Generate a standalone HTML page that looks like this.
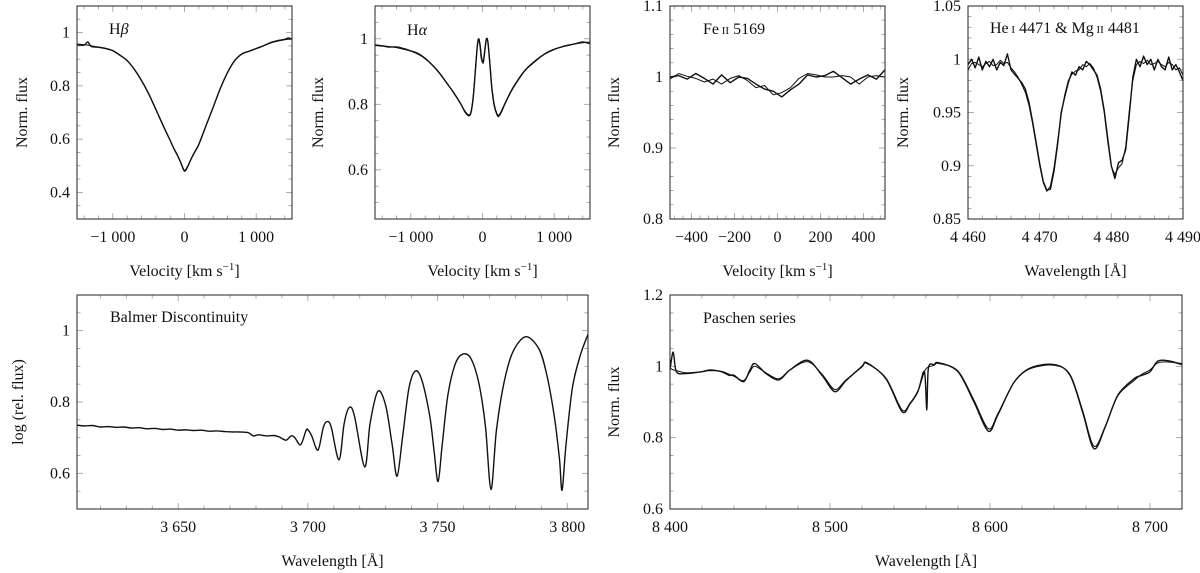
<!DOCTYPE html>
<html><head><meta charset="utf-8"><style>
html,body{margin:0;padding:0;background:#fff;}
svg, svg text{font-family:"Liberation Serif","DejaVu Serif",serif;}
svg{display:block;}
</style></head><body>
<svg id="fig" width="1200" height="573" viewBox="0 0 1200 573" xmlns="http://www.w3.org/2000/svg" font-family="Liberation Serif, DejaVu Serif, serif"></svg>
<script>
// ---------- DATA ----------
const hbX=[-1500,-1400,-1350,-1300,-1200,-1100,-1000,-900,-800,-700,-600,-500,-400,-300,-200,-150,-100,-50,0,50,100,150,200,300,400,500,600,700,800,900,1000,1100,1200,1300,1400,1450,1500];
const hbObs=[0.955,0.953,0.965,0.948,0.945,0.94,0.932,0.915,0.895,0.862,0.82,0.77,0.712,0.652,0.595,0.565,0.54,0.51,0.48,0.50,0.53,0.555,0.58,0.65,0.72,0.79,0.85,0.895,0.92,0.93,0.94,0.95,0.962,0.97,0.975,0.98,0.975];
const hbMod=[0.957,0.955,0.953,0.95,0.946,0.941,0.933,0.916,0.894,0.863,0.821,0.771,0.713,0.653,0.596,0.566,0.541,0.512,0.483,0.502,0.531,0.556,0.582,0.651,0.721,0.79,0.85,0.894,0.919,0.93,0.941,0.951,0.961,0.968,0.973,0.975,0.976];
const haX=[-1500,-1400,-1300,-1200,-1100,-1000,-900,-800,-700,-600,-500,-400,-300,-240,-190,-160,-130,-100,-75,-55,-35,-15,10,35,55,75,100,130,165,200,225,260,300,400,500,600,700,800,900,1000,1100,1200,1300,1400,1500];
const haObs=[0.98,0.978,0.975,0.975,0.97,0.963,0.955,0.94,0.92,0.895,0.865,0.835,0.80,0.775,0.765,0.775,0.82,0.9,0.97,1.0,0.98,0.94,0.93,0.97,1.0,0.99,0.93,0.85,0.795,0.77,0.763,0.775,0.795,0.84,0.875,0.905,0.925,0.943,0.958,0.968,0.975,0.98,0.985,0.99,0.985];
const haMod=[0.982,0.979,0.976,0.973,0.968,0.962,0.953,0.939,0.92,0.896,0.866,0.834,0.80,0.778,0.768,0.778,0.825,0.905,0.975,1.0,0.985,0.95,0.925,0.965,1.0,0.99,0.935,0.855,0.80,0.773,0.767,0.778,0.797,0.842,0.877,0.906,0.927,0.944,0.957,0.967,0.975,0.981,0.985,0.988,0.99];
const feX=[-500,-460,-420,-380,-340,-300,-260,-220,-180,-140,-100,-60,-20,20,60,100,140,180,220,260,300,340,380,420,460,500];
const feA=[1.0,1.002,0.997,1.005,0.998,0.99,1.003,0.992,1.0,0.998,0.99,0.983,0.98,0.972,0.982,0.99,1.003,1.0,1.002,1.008,0.999,0.99,0.997,1.003,0.997,1.01];
const feB=[0.997,1.005,1.001,0.998,0.993,0.997,0.99,0.998,1.002,0.995,0.985,0.988,0.975,0.978,0.985,0.998,1.005,1.003,1.0,1.0,1.002,1.0,0.99,1.0,1.002,1.0];
const heX=[4460,4460.5,4461,4461.5,4462,4462.5,4463,4463.5,4464,4464.5,4465,4465.5,4466,4466.5,4467,4467.5,4468,4468.5,4469,4469.5,4470,4470.5,4471,4471.5,4472,4472.5,4473,4473.5,4474,4474.5,4475,4475.5,4476,4476.5,4477,4477.5,4478,4478.5,4479,4479.5,4480,4480.5,4481,4481.5,4482,4482.5,4483,4483.5,4484,4484.5,4485,4485.5,4486,4486.5,4487,4487.5,4488,4488.5,4489,4489.5,4490];
const heObs=[0.995,1.0,0.992,1.002,0.99,0.998,0.993,1.0,0.99,0.997,0.994,1.005,0.99,0.986,0.982,0.978,0.972,0.96,0.942,0.922,0.902,0.885,0.877,0.878,0.895,0.92,0.95,0.965,0.978,0.988,0.985,0.993,0.99,0.998,0.995,0.99,0.985,0.972,0.952,0.925,0.9,0.888,0.903,0.905,0.915,0.948,0.983,1.0,0.993,1.003,0.995,1.0,0.99,1.0,0.993,0.99,1.002,0.99,0.995,0.988,0.98];
const heMod=[0.99,0.996,0.997,0.995,0.993,0.996,0.998,0.994,0.995,0.999,0.996,0.997,0.992,0.988,0.983,0.976,0.969,0.957,0.94,0.92,0.9,0.884,0.876,0.881,0.898,0.923,0.948,0.967,0.98,0.986,0.989,0.99,0.995,0.993,0.996,0.992,0.983,0.97,0.95,0.922,0.899,0.892,0.898,0.902,0.918,0.952,0.98,0.995,0.998,0.996,0.999,0.995,0.996,0.998,0.995,0.993,0.997,0.995,0.99,0.992,0.985];
const balX=[3611,3614,3617,3620,3623,3626,3629,3632,3635,3638,3641,3644,3647,3650,3653,3656,3659,3662,3665,3668,3671,3674,3677,3679,3681,3684,3687,3689,3691.6,3693.5,3695,3697.2,3699.3,3700,3701.5,3703.9,3706,3707.5,3709,3712,3714,3716,3718,3721.9,3724,3727,3730,3732.5,3734.4,3736.5,3739,3741.5,3744,3747,3748.7,3750.2,3751.8,3754,3757,3760,3763,3766,3768.5,3770.6,3772.7,3775.5,3779,3784,3789,3792,3795,3797,3798,3799.5,3802,3805,3808];
const balObs=[0.735,0.733,0.734,0.73,0.731,0.729,0.73,0.727,0.728,0.725,0.726,0.723,0.724,0.721,0.722,0.72,0.721,0.718,0.719,0.717,0.716,0.716,0.714,0.705,0.708,0.705,0.706,0.702,0.693,0.705,0.7,0.68,0.72,0.722,0.705,0.665,0.73,0.745,0.73,0.638,0.74,0.785,0.76,0.618,0.74,0.83,0.79,0.68,0.592,0.7,0.84,0.887,0.86,0.76,0.66,0.577,0.68,0.82,0.91,0.935,0.92,0.85,0.73,0.555,0.72,0.85,0.94,0.983,0.95,0.88,0.76,0.64,0.553,0.68,0.84,0.93,0.99];
const paX=[8400,8402,8404,8410,8420,8425,8432,8437,8440,8446,8450,8453,8460,8468,8475,8486,8495,8503,8510,8520,8523,8535,8545,8550,8555,8559,8560.5,8561.5,8565,8568,8580,8590,8599,8605,8615,8625,8640,8650,8658,8665,8672,8680,8690,8695,8700,8705,8712,8720];
const paObs=[0.99,1.04,0.985,0.98,0.985,0.99,0.985,0.975,0.975,0.957,0.99,1.008,0.98,0.962,0.99,1.017,0.975,0.929,0.96,1.0,1.01,0.965,0.873,0.895,0.93,0.985,0.878,0.995,1.005,1.01,0.985,0.9,0.818,0.865,0.955,0.995,1.005,0.975,0.87,0.769,0.83,0.92,0.965,0.975,0.985,1.015,1.015,1.005];
const paMod=[0.995,0.99,0.988,0.982,0.985,0.988,0.986,0.978,0.972,0.96,0.985,1.0,0.982,0.965,0.99,1.013,0.978,0.935,0.962,0.998,1.008,0.967,0.878,0.897,0.932,0.985,0.995,0.998,1.003,1.008,0.987,0.905,0.825,0.868,0.955,0.993,1.003,0.977,0.875,0.776,0.832,0.918,0.96,0.978,0.99,1.01,1.012,1.008];
// tick values / labels
const hbYTicks=[0.4,0.6,0.8,1], hbYLabels=["0.4","0.6","0.8","1"];
const haYTicks=[0.6,0.8,1], haYLabels=["0.6","0.8","1"];
const velTicks=[-1000,0,1000], velLabels=["−1 000","0","1 000"];
const feXTicks=[-400,-200,0,200,400], feXLabels=["−400","−200","0","200","400"];
const feYTicks=[0.8,0.9,1,1.1], feYLabels=["0.8","0.9","1","1.1"];
const heXTicks=[4460,4470,4480,4490], heXLabels=["4 460","4 470","4 480","4 490"];
const heYTicks=[0.85,0.9,0.95,1,1.05], heYLabels=["0.85","0.9","0.95","1","1.05"];
const balXTicks=[3650,3700,3750,3800], balXLabels=["3 650","3 700","3 750","3 800"];
const balYTicks=[0.6,0.8,1], balYLabels=["0.6","0.8","1"];
const paXTicks=[8400,8500,8600,8700], paXLabels=["8 400","8 500","8 600","8 700"];
const paYTicks=[0.6,0.8,1,1.2], paYLabels=["0.6","0.8","1","1.2"];

// ---------- RENDER ----------
const NS="http://www.w3.org/2000/svg";
const svg=document.getElementById('fig');
const FF='Liberation Serif, DejaVu Serif, serif';
function mk(tag,attrs,parent){const e=document.createElementNS(NS,tag);for(const k in attrs)e.setAttribute(k,attrs[k]);(parent||svg).appendChild(e);return e;}
function smoothPath(P,smooth){
  let d='M'+P[0][0].toFixed(1)+','+P[0][1].toFixed(1);
  if(!smooth){for(let i=1;i<P.length;i++)d+='L'+P[i][0].toFixed(1)+','+P[i][1].toFixed(1);return d;}
  for(let i=0;i<P.length-1;i++){
    const p0=P[Math.max(0,i-1)],p1=P[i],p2=P[i+1],p3=P[Math.min(P.length-1,i+2)];
    const t=0.16;
    const c1=[p1[0]+(p2[0]-p0[0])*t,p1[1]+(p2[1]-p0[1])*t];
    const c2=[p2[0]-(p3[0]-p1[0])*t,p2[1]-(p3[1]-p1[1])*t];
    d+='C'+c1[0].toFixed(1)+','+c1[1].toFixed(1)+' '+c2[0].toFixed(1)+','+c2[1].toFixed(1)+' '+p2[0].toFixed(1)+','+p2[1].toFixed(1);
  }
  return d;
}
let clipId=0;
function txt(attrs,g){attrs['font-family']=FF;return mk('text',attrs,g);}
function panel(c){
  const g=mk('g',{});
  
  
  const sx=v=>c.x0+(v-c.xd[0])/(c.xd[1]-c.xd[0])*(c.x1-c.x0);
  const sy=v=>c.y1-(v-c.yd[0])/(c.yd[1]-c.yd[0])*(c.y1-c.y0);
  const eps=1e-9;
  for(let v=Math.ceil(c.xd[0]/c.xmin-eps)*c.xmin; v<=c.xd[1]+eps; v+=c.xmin){
    const X=sx(v); if(X<=c.x0+0.5||X>=c.x1-0.5) continue;
    const major=c.xt.some(t=>Math.abs(t-v)<c.xmin/10); const L=major?6:3.5;
    mk('line',{x1:X,x2:X,y1:c.y1,y2:c.y1-L,stroke:'#999','stroke-width':0.8},g);
    mk('line',{x1:X,x2:X,y1:c.y0,y2:c.y0+L,stroke:'#999','stroke-width':0.8},g);
  }
  for(let v=Math.ceil(c.yd[0]/c.ymin-eps)*c.ymin; v<=c.yd[1]+eps; v+=c.ymin){
    const Y=sy(v); if(Y<=c.y0+0.5||Y>=c.y1-0.5) continue;
    const major=c.yt.some(t=>Math.abs(t-v)<c.ymin/10); const L=major?6:3.5;
    mk('line',{x1:c.x0,x2:c.x0+L,y1:Y,y2:Y,stroke:'#999','stroke-width':0.8},g);
    mk('line',{x1:c.x1,x2:c.x1-L,y1:Y,y2:Y,stroke:'#999','stroke-width':0.8},g);
  }
  const id='clip'+(clipId++);
  const cp=mk('clipPath',{id:id},g); mk('rect',{x:c.x0,y:c.y0,width:c.x1-c.x0,height:c.y1-c.y0},cp);
  c.series.forEach((s,i)=>{
    const P=s.x.map((xv,k)=>[sx(xv),sy(s.y[k])]);
    const pl=mk('path',{d:smoothPath(P,c.smooth),fill:'none',stroke:'#111','stroke-width':i==0?1.4:1,'stroke-linejoin':'round','clip-path':'url(#'+id+')'},g);
    
    
  });
  const fr=mk('rect',{x:c.x0,y:c.y0,width:c.x1-c.x0,height:c.y1-c.y0,fill:'none',stroke:'#222','stroke-width':1},g);
  
  
  c.xt.forEach((v,i)=>{const t=txt({x:sx(v),y:c.y1+23,'text-anchor':'middle','font-size':16,fill:'#111'},g);t.textContent=c.xl[i];
    
    });
  c.yt.forEach((v,i)=>{const t=txt({x:c.x0-7,y:sy(v)+5,'text-anchor':'end','font-size':16,fill:'#111'},g);t.textContent=c.yl[i];
    
    });
  const xt=txt({x:(c.x0+c.x1)/2,y:c.y1+57,'text-anchor':'middle','font-size':16,fill:'#111'},g);
  xt.innerHTML=c.xtitle;
  
  
  const yt=txt({x:0,y:0,'text-anchor':'middle','font-size':16,fill:'#111',transform:'translate('+c.ytx+','+((c.y0+c.y1)/2)+') rotate(-90)'},g);
  yt.textContent=c.ytitle;
  
  
  const tt=txt({x:c.tx,y:c.ty,'font-size':16,fill:'#111'},g);
  tt.innerHTML=c.title;
  
  
}
const vel='Velocity [km s<tspan dy="-6" font-size="11">−1</tspan><tspan dy="6">]</tspan>';
const sc=s=>'<tspan font-size="11">'+s+'</tspan>';
panel({name:'h-beta-panel',smooth:true,x0:77,x1:292,y0:6,y1:219,xd:[-1500,1500],yd:[0.3,1.1],xt:velTicks,xl:velLabels,yt:hbYTicks,yl:hbYLabels,xmin:200,ymin:0.05,
  xtitle:vel,ytitle:'Norm. flux',ytx:27,title:'H<tspan font-style="italic">β</tspan>',tx:109,ty:34,
  series:[{name:'h-beta-observed',x:hbX,y:hbObs},{name:'h-beta-model',x:hbX,y:hbMod}]});
panel({name:'h-alpha-panel',smooth:true,x0:375,x1:590,y0:6,y1:219,xd:[-1500,1500],yd:[0.45,1.1],xt:velTicks,xl:velLabels,yt:haYTicks,yl:haYLabels,xmin:200,ymin:0.05,
  xtitle:vel,ytitle:'Norm. flux',ytx:323,title:'H<tspan font-style="italic">α</tspan>',tx:407,ty:35,
  series:[{name:'h-alpha-observed',x:haX,y:haObs},{name:'h-alpha-model',x:haX,y:haMod}]});
panel({name:'fe-ii-panel',smooth:false,x0:670,x1:885,y0:6,y1:219,xd:[-500,500],yd:[0.8,1.1],xt:feXTicks,xl:feXLabels,yt:feYTicks,yl:feYLabels,xmin:40,ymin:0.02,
  xtitle:vel,ytitle:'Norm. flux',ytx:619,title:'Fe'+sc(' II')+' 5169',tx:703,ty:34,
  series:[{name:'fe-ii-observed',x:feX,y:feA},{name:'fe-ii-model',x:feX,y:feB}]});
panel({name:'he-mg-panel',smooth:false,x0:968,x1:1183,y0:6,y1:219,xd:[4460,4490],yd:[0.85,1.05],xt:heXTicks,xl:heXLabels,yt:heYTicks,yl:heYLabels,xmin:2,ymin:0.01,
  xtitle:'Wavelength [Å]',ytitle:'Norm. flux',ytx:908,title:'He'+sc(' I')+' 4471 &amp; Mg'+sc(' II')+' 4481',tx:990,ty:33,
  series:[{name:'he-mg-observed',x:heX,y:heObs},{name:'he-mg-model',x:heX,y:heMod}]});
panel({name:'balmer-panel',smooth:true,x0:77,x1:588,y0:295,y1:509,xd:[3611,3808],yd:[0.5,1.1],xt:balXTicks,xl:balXLabels,yt:balYTicks,yl:balYLabels,xmin:10,ymin:0.05,
  xtitle:'Wavelength [Å]',ytitle:'log (rel. flux)',ytx:23,title:'Balmer Discontinuity',tx:110,ty:322,
  series:[{name:'balmer-observed',x:balX,y:balObs}]});
panel({name:'paschen-panel',smooth:true,x0:670,x1:1182,y0:295,y1:509,xd:[8400,8720],yd:[0.6,1.2],xt:paXTicks,xl:paXLabels,yt:paYTicks,yl:paYLabels,xmin:20,ymin:0.05,
  xtitle:'Wavelength [Å]',ytitle:'Norm. flux',ytx:619,title:'Paschen series',tx:703,ty:323,
  series:[{name:'paschen-observed',x:paX,y:paObs},{name:'paschen-model',x:paX,y:paMod}]});
</script>
</body></html>
